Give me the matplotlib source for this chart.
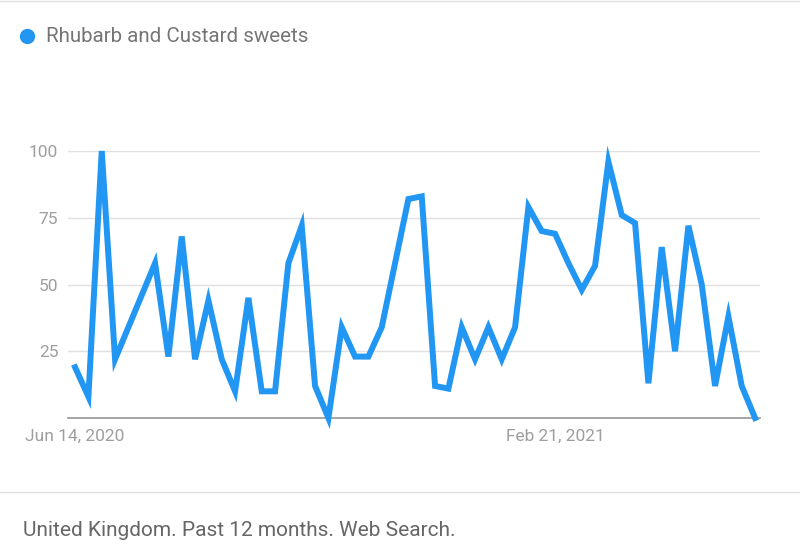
import matplotlib
matplotlib.use("Agg")
import matplotlib.pyplot as plt
from matplotlib.lines import Line2D
import pandas as pd

plt.rcParams["font.family"] = ["Roboto", "DejaVu Sans"]

series_name = "Rhubarb and Custard sweets"
weeks = pd.date_range("2020-06-14", periods=52, freq="7D")
interest = [19, 8, 100, 22, 34, 46, 58, 23, 68, 22,
            44, 22, 10, 45, 10, 10, 58, 72, 12, 0,
            34, 23, 23, 34, 58, 82, 83, 12, 11, 34,
            22, 34, 22, 34, 79, 70, 69, 58, 48, 57,
            96, 76, 73, 13, 64, 25, 72, 50, 12, 38,
            12, 0]
y_ticks = [25, 50, 75, 100]
x_tick_idx = [0, 36]
footer = "United Kingdom. Past 12 months. Web Search."

blue = "#2196f3"
grey_text = "#9e9e9e"

fig = plt.figure(figsize=(8, 5.59), dpi=100)
ax = fig.add_axes([0.085, 0.2522, 0.865, 0.4777])

x = list(range(len(interest)))
ax.plot(x, interest, color=blue, lw=4.3, solid_joinstyle="miter",
        clip_on=False, zorder=3)

ax.set_xlim(-0.53, len(interest) - 1 + 0.37)
ax.set_ylim(0, 100)
ax.set_yticks(y_ticks)
ax.set_yticklabels([str(v) for v in y_ticks])
ax.set_xticks(x_tick_idx)
ax.set_xticklabels([weeks[i].strftime("%b %-d, %Y") for i in x_tick_idx])
ax.tick_params(axis="both", length=0, labelsize=12.5, labelcolor=grey_text)
ax.tick_params(axis="y", pad=7)
ax.tick_params(axis="x", pad=8)
ax.grid(axis="y", color="#e0e0e0", lw=1)
ax.set_axisbelow(True)
for s in ["top", "right", "left"]:
    ax.spines[s].set_visible(False)
ax.spines["bottom"].set_color("#9e9e9e")
ax.spines["bottom"].set_linewidth(1.3)

# legend dot and label
fig.add_artist(Line2D([27 / 800], [1 - 36 / 559], marker="o", ms=10,
                      color=blue, transform=fig.transFigure))
fig.text(46 / 800, 1 - 37 / 559, series_name, color="#757575",
         fontsize=14.8, va="center", ha="left")

# separators
fig.add_artist(Line2D([0, 1], [1 - 1 / 559] * 2, color="#e0e0e0", lw=1,
                      transform=fig.transFigure))
fig.add_artist(Line2D([0, 1], [1 - 492 / 559] * 2, color="#e0e0e0", lw=1,
                      transform=fig.transFigure))
fig.text(23 / 800, 1 - 530 / 559, footer, color="#666666",
         fontsize=15, va="center", ha="left")

fig.savefig("out.png", dpi=100)
